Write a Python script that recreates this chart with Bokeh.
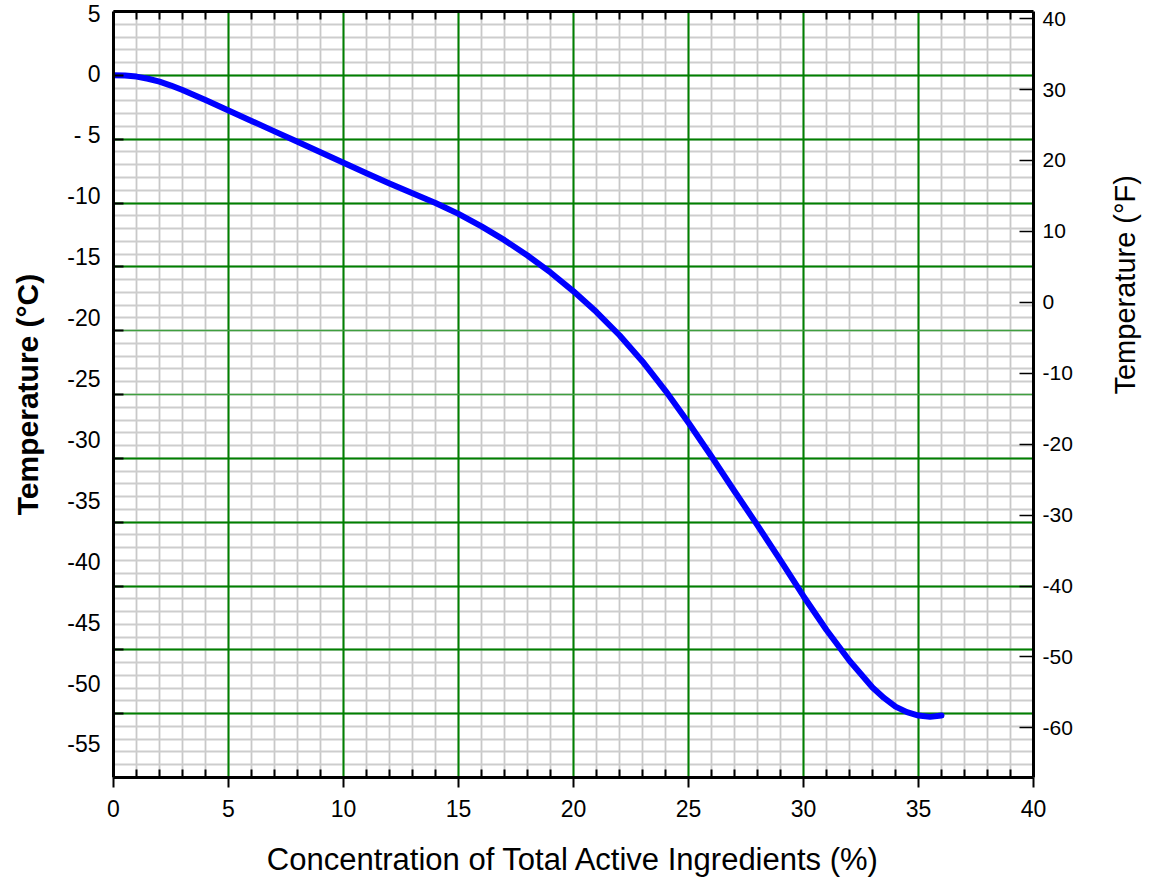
import math
from bokeh.plotting import figure
from bokeh.models import Range1d, LinearAxis, FixedTicker, Grid
from bokeh.embed import file_html
from bokeh.resources import INLINE

# ---- data ----
conc = [0, 0.5, 1, 1.5, 2, 2.5, 3, 4, 5, 6, 7, 8, 9, 10, 11, 12, 13, 14, 15, 16,
        17, 18, 19, 20, 21, 22, 23, 24, 25, 26, 27, 28, 29, 30, 31, 32, 33,
        33.5, 34, 34.5, 35, 35.5, 36]
temp_c = [0.0, -0.02, -0.1, -0.27, -0.5, -0.8, -1.15, -1.93, -2.75, -3.57,
          -4.39, -5.21, -6.03, -6.85, -7.67, -8.47, -9.24, -10.0, -10.85, -11.83,
          -12.91, -14.11, -15.44, -16.92, -18.54, -20.36, -22.41, -24.71, -27.21,
          -29.86, -32.58, -35.25, -38.0, -40.8, -43.45, -45.85, -47.95,
          -48.77, -49.45, -49.88, -50.15, -50.25, -50.15]

x_ticks = [0, 5, 10, 15, 20, 25, 30, 35, 40]
x_minor = [i for i in range(0, 41) if i % 5 != 0]
x_grid_major = [5, 10, 15, 20, 25, 30, 35]
x_grid_minor = list(range(0, 41))
c_ticks = [5, 0, -5, -10, -15, -20, -25, -30, -35, -40, -45, -50, -55]
c_grid_major = [0, -5, -10, -15, -30, -35, -40, -45, -50]
c_grid_light = [-20, -25]
c_grid_minor = list(range(-55, 6))
f_ticks = [40, 30, 20, 10, 0, -10, -20, -30, -40, -50, -60]

# tick texts as printed (plain hyphen, "- 5" with a space)
c_label_text = {t: ("- 5" if t == -5 else str(t)) for t in c_ticks}
f_label_text = {t: str(t) for t in f_ticks}

x_title = "Concentration of Total Active Ingredients (%)"
yl_title = "Temperature (\u00b0C)"
yr_title = "Temperature (\u00b0F)"

C_MIN, C_MAX = -55, 5
FONT = "Liberation Sans"

p = figure(frame_width=920, frame_height=766,
           x_range=Range1d(0, 40), y_range=Range1d(C_MIN, C_MAX),
           output_backend="svg", toolbar_location=None,
           min_border_left=113, min_border_top=11,
           min_border_right=0, min_border_bottom=0)
p.outline_line_color = None
p.background_fill_color = "white"
p.border_fill_color = "white"

p.extra_y_ranges = {
    "F": Range1d(C_MIN * 1.8 + 32, C_MAX * 1.8 + 32),
    "lbl": Range1d(-57.71, 5.16),
}

# ---- grids ----
gx = p.xgrid[0]
gx.ticker = FixedTicker(ticks=[], minor_ticks=x_grid_minor)
gx.grid_line_color = None
gx.minor_grid_line_color = "#c8c8c8"
gx.minor_grid_line_width = 1.8

gy = p.ygrid[0]
gy.ticker = FixedTicker(ticks=[], minor_ticks=c_grid_minor)
gy.grid_line_color = None
gy.minor_grid_line_color = "#cdcdcd"
gy.minor_grid_line_width = 1.8

p.add_layout(Grid(dimension=0, ticker=FixedTicker(ticks=x_grid_major),
                  grid_line_color="#008000", grid_line_width=2))
p.add_layout(Grid(dimension=1, ticker=FixedTicker(ticks=c_grid_major),
                  grid_line_color="#008000", grid_line_width=2))
p.add_layout(Grid(dimension=1, ticker=FixedTicker(ticks=c_grid_light),
                  grid_line_color="#3f9f3f", grid_line_width=1.3))

# ---- curve ----
p.line(conc, temp_c, line_color="#0000ff", line_width=6,
       line_cap="round", line_join="round")

# ---- bottom axis ----
xa = p.xaxis[0]
xa.ticker = FixedTicker(ticks=x_ticks, minor_ticks=x_minor)
xa.major_tick_in = 0
xa.major_tick_out = 10
xa.minor_tick_in = 8
xa.minor_tick_out = 0
xa.axis_line_width = 3
xa.axis_line_color = "black"
xa.major_tick_line_width = 2
xa.minor_tick_line_width = 2
xa.major_label_text_font = FONT
xa.major_label_text_font_size = "23px"
xa.major_label_text_color = "black"
xa.major_label_standoff = 12
xa.axis_label = x_title
xa.axis_label_text_font = FONT
xa.axis_label_text_font_size = "31px"
xa.axis_label_text_font_style = "normal"
xa.axis_label_text_color = "black"
xa.axis_label_standoff = 22

# ---- top axis (ticks only) ----
ta = LinearAxis(ticker=FixedTicker(ticks=[], minor_ticks=x_minor),
                major_tick_in=0, major_tick_out=0,
                minor_tick_in=8, minor_tick_out=0,
                axis_line_width=3, axis_line_color="black",
                minor_tick_line_width=2, major_label_standoff=0)
p.add_layout(ta, "above")

# ---- left axis: line + inward ticks ----
ya = p.yaxis[0]
ya.ticker = FixedTicker(ticks=c_ticks, minor_ticks=[])
ya.major_tick_in = 10
ya.major_tick_out = 0
ya.major_tick_line_width = 2
ya.axis_line_width = 3
ya.axis_line_color = "black"
ya.major_label_overrides = {t: "" for t in c_ticks}
ya.major_label_standoff = 0

# ---- left axis: labels (placed as printed in the reference) ----
la = LinearAxis(y_range_name="lbl",
                ticker=FixedTicker(ticks=c_ticks, minor_ticks=[]),
                major_label_overrides=c_label_text,
                axis_line_color=None, major_tick_line_color=None,
                minor_tick_line_color=None,
                major_tick_in=0, major_tick_out=0,
                major_label_standoff=13,
                major_label_text_font=FONT,
                major_label_text_font_size="23px",
                major_label_text_color="black",
                axis_label=yl_title,
                axis_label_text_font=FONT,
                axis_label_text_font_size="30px",
                axis_label_text_font_style="bold",
                axis_label_text_color="black",
                axis_label_standoff=20)
p.add_layout(la, "left")

# ---- right axis (Fahrenheit), title reading bottom-to-top ----
ra = LinearAxis(y_range_name="F",
                ticker=FixedTicker(ticks=f_ticks, minor_ticks=[]),
                major_label_overrides=f_label_text,
                major_tick_in=14, major_tick_out=0,
                major_tick_line_width=1.5,
                axis_line_width=3, axis_line_color="black",
                major_label_standoff=9,
                major_label_text_font=FONT,
                major_label_text_font_size="21px",
                major_label_text_color="black",
                axis_label=yr_title,
                axis_label_orientation=math.pi / 2,
                axis_label_text_font=FONT,
                axis_label_text_font_size="29px",
                axis_label_text_font_style="normal",
                axis_label_text_color="black",
                axis_label_standoff=49)
p.add_layout(ra, "right")

open("out.html", "w").write(file_html(p, INLINE))
